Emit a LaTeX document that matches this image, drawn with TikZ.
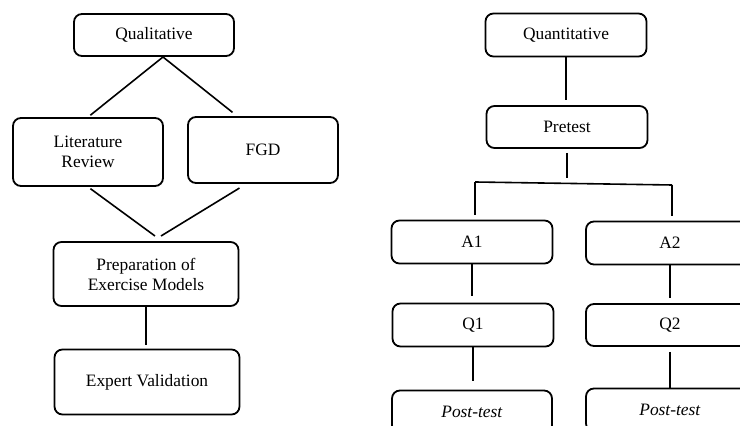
\documentclass[tikz,border=0pt]{standalone}
\usepackage{fontspec}
\setmainfont{Liberation Serif}
\usetikzlibrary{calc}
\tikzstyle{stage} = [rectangle, rounded corners=4pt, draw=black, line width=0.9pt, align=center, inner sep=1pt, font=\fontsize{8.7}{10}\selectfont]

\begin{document}
\begin{tikzpicture}[x=0.5pt, y=-0.5pt, wire/.style={line width=0.8pt}]
\useasboundingbox (0,0) rectangle (740,426);
\clip (0,0) rectangle (740,426);

% Define nodes (qualitative side)
\node[stage, minimum width=80pt,   minimum height=21pt]    (qual)   at (154,35)  {Qualitative};
\node[stage, minimum width=75pt,   minimum height=34pt]    (lit)    at (88,152)  {Literature\\Review};
\node[stage, minimum width=75pt,   minimum height=33pt]    (fgd)    at (263,150) {FGD};
\node[stage, minimum width=92.5pt, minimum height=32pt]    (prep)   at (146,274) {Preparation of\\Exercise Models};
\node[stage, minimum width=92.5pt, minimum height=32.5pt]  (expert) at (147,382) {Expert Validation};

% Define nodes (quantitative side)
\node[stage, minimum width=80.5pt, minimum height=21.5pt]  (quant)  at (566,35)  {Quantitative};
\node[stage, minimum width=80.5pt, minimum height=21pt]    (pre)    at (567,127) {Pretest};
\node[stage, minimum width=80.5pt, minimum height=21.5pt]  (a1)     at (472,242) {A1};
\node[stage, minimum width=84pt,   minimum height=21.5pt]  (a2)     at (670,243) {A2};
\node[stage, minimum width=80.5pt, minimum height=21.5pt]  (q1)     at (473,325) {Q1};
\node[stage, minimum width=84pt,   minimum height=21pt]    (q2)     at (670,325) {Q2};
\node[stage, minimum width=80pt,   minimum height=21.5pt]  (post1)  at (472,412) {\textit{Post-test}};
\node[stage, minimum width=84pt,   minimum height=21.5pt]  (post2)  at (670,410) {\textit{Post-test}};

% Junctions
\coordinate (apex)   at (163,57);
\coordinate (meet)   at (158,236);
\coordinate (splitL) at (475,182);
\coordinate (splitR) at (672,185);

% Edges
\draw[wire, shorten >=1.5pt] (apex) -- (lit.north);
\draw[wire, shorten >=3pt]   (apex) -- ($(fgd.north west)!.33!(fgd.north east)$);
\draw[wire, shorten <=1.5pt] (lit.south) -- ([xshift=-1.5pt]meet);
\draw[wire, shorten <=4pt]   ($(fgd.south west)!.39!(fgd.south east)$) -- ([xshift=1.5pt]meet);
\draw[wire, shorten >=2pt]   (prep.south) -- (prep.south |- expert.north);

\draw[wire, shorten >=2.5pt] (quant.south) -- (quant.south |- pre.north);
\draw[wire, shorten <=2pt, shorten >=2pt] (pre.south) -- (pre.south |- splitL);
\draw[wire] (splitL) -- (splitR);
\draw[wire, shorten >=2.5pt] (splitL) -- (splitL |- a1.north);
\draw[wire, shorten >=2.5pt] (splitR) -- (splitR |- a2.north);
\draw[wire, shorten >=3.5pt] (a1.south) -- (a1.south |- q1.north);
\draw[wire, shorten >=4.5pt] (q1.south) -- (q1.south |- post1.north);
\draw[wire, shorten >=2.5pt] (a2.south) -- (a2.south |- q2.north);
\draw[wire, shorten <=2.5pt] (q2.south) -- (q2.south |- post2.north);
\end{tikzpicture}
\end{document}
